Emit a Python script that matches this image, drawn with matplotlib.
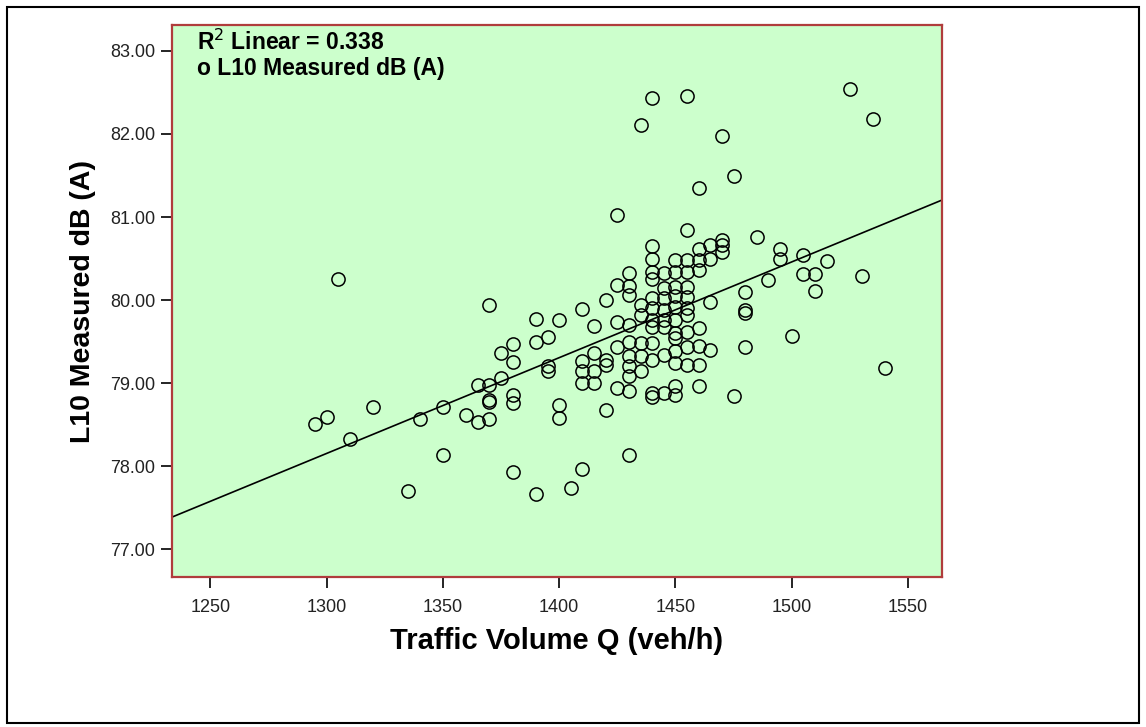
import numpy as np
import matplotlib
matplotlib.use("Agg")
import matplotlib.pyplot as plt
from matplotlib.patches import Rectangle

# traffic volume vs measured L10 noise level
# values, one pair per circle
traffic_q = [
    1295, 1300, 1305, 1310, 1320, 1335, 1340, 1350, 1350, 1360,
    1365, 1365, 1370, 1370, 1370, 1370, 1370, 1375, 1375, 1380,
    1380, 1380, 1380, 1380, 1390, 1390, 1390, 1395, 1395, 1395,
    1400, 1400, 1400, 1405, 1410, 1410, 1410, 1410, 1410, 1415,
    1415, 1415, 1415, 1420, 1420, 1420, 1420, 1425, 1425, 1425,
    1425, 1425, 1430, 1430, 1430, 1430, 1430, 1430, 1430, 1430,
    1430, 1430, 1435, 1435, 1435, 1435, 1435, 1435, 1440, 1440,
    1440, 1440, 1440, 1440, 1440, 1440, 1440, 1440, 1440, 1440,
    1440, 1445, 1445, 1445, 1445, 1445, 1445, 1445, 1445, 1450,
    1450, 1450, 1450, 1450, 1450, 1450, 1450, 1450, 1450, 1450,
    1450, 1455, 1455, 1455, 1455, 1455, 1455, 1455, 1455, 1455,
    1455, 1455, 1460, 1460, 1460, 1460, 1460, 1460, 1460, 1460,
    1465, 1465, 1465, 1465, 1470, 1470, 1470, 1470, 1475, 1475,
    1480, 1480, 1480, 1480, 1485, 1490, 1495, 1495, 1500, 1505,
    1505, 1510, 1510, 1515, 1525, 1530, 1535, 1540,
]
l10_db = [
    78.51, 78.59, 80.25, 78.32, 78.71, 77.70, 78.57, 78.71, 78.13, 78.62,
    78.53, 78.98, 78.98, 78.80, 78.77, 78.57, 79.94, 79.36, 79.06, 79.47,
    79.25, 78.86, 78.76, 77.93, 79.77, 79.49, 77.66, 79.55, 79.20, 79.14,
    79.76, 78.73, 78.58, 77.74, 79.89, 79.26, 79.14, 79.00, 77.96, 79.69,
    79.36, 79.14, 79.00, 80.00, 79.28, 79.22, 78.67, 81.02, 80.18, 79.74,
    79.44, 78.94, 80.33, 80.17, 80.06, 79.70, 79.50, 79.32, 79.20, 79.08,
    78.90, 78.13, 82.11, 79.94, 79.82, 79.48, 79.32, 79.14, 82.43, 80.65,
    80.50, 80.34, 80.25, 80.02, 79.90, 79.76, 79.68, 79.48, 79.28, 78.88,
    78.83, 80.32, 80.14, 80.02, 79.88, 79.76, 79.68, 79.34, 78.88, 80.48,
    80.34, 80.16, 80.05, 79.92, 79.76, 79.60, 79.54, 79.38, 79.24, 78.96,
    78.86, 82.46, 80.84, 80.48, 80.34, 80.16, 80.04, 79.90, 79.82, 79.62,
    79.44, 79.22, 81.35, 80.62, 80.48, 80.36, 79.66, 79.45, 79.22, 78.96,
    80.66, 80.49, 79.98, 79.40, 81.98, 80.72, 80.66, 80.58, 81.49, 78.84,
    80.10, 79.88, 79.84, 79.43, 80.76, 80.24, 80.62, 80.49, 79.57, 80.54,
    80.31, 80.31, 80.11, 80.47, 82.54, 80.29, 82.18, 79.18,
]
x_ticks = [1250, 1300, 1350, 1400, 1450, 1500, 1550]
y_ticks = [77.0, 78.0, 79.0, 80.0, 81.0, 82.0, 83.0]
r2_text = "R$^2$ Linear = 0.338"
legend_text = "o L10 Measured dB (A)"

# DRAWING
BG = "#CCFFCC"
FRAME = "#B03C3C"
FONT = ["Liberation Sans", "DejaVu Sans"]


def main():
    plt.rcParams["font.family"] = FONT
    x = np.array(traffic_q, dtype=float)
    y = np.array(l10_db)

    fig = plt.figure(figsize=(11.46, 7.27), dpi=100)
    ax = fig.add_axes([0.150, 0.2063, 0.672, 0.7593])
    ax.set_facecolor(BG)

    ax.plot(x, y, linestyle="none", marker="o", markersize=9.5,
            markerfacecolor="none", markeredgecolor="black", markeredgewidth=1.1)

    # least squares line across the whole x range
    slope, icpt = np.polyfit(x, y, 1)
    xl = np.array([1233.5, 1564.6])
    ax.plot(xl, icpt + slope * xl, color="black", lw=1.2)

    ax.set_xlim(1233.5, 1564.6)
    ax.set_ylim(76.663, 83.313)
    ax.set_xticks(x_ticks)
    ax.set_yticks(y_ticks)
    ax.set_yticklabels([f"{v:.2f}" for v in y_ticks])
    ax.tick_params(axis="both", direction="out", length=8, width=1.2,
                   color="black", labelsize=13, labelcolor="#222222")
    ax.tick_params(axis="x", pad=8)
    ax.tick_params(axis="y", pad=4)
    for s in ax.spines.values():
        s.set_color(FRAME)
        s.set_linewidth(1.6)

    ax.set_xlabel("Traffic Volume Q (veh/h)", fontsize=21, fontweight="bold", labelpad=8)
    ax.set_ylabel("L10 Measured dB (A)", fontsize=20.5, fontweight="bold", labelpad=10)

    ax.text(0.032, 0.969, r2_text, transform=ax.transAxes, fontsize=16.5,
            fontweight="bold", va="center", ha="left")
    ax.text(0.032, 0.922, legend_text, transform=ax.transAxes, fontsize=16.5,
            fontweight="bold", va="center", ha="left")

    # outer frame around the whole output window
    fig.patches.append(Rectangle((0.006, 0.006), 0.988, 0.985, transform=fig.transFigure,
                                 fill=False, edgecolor="black", lw=1.5))

    fig.savefig("out.png", dpi=100)


if __name__ == "__main__":
    main()
